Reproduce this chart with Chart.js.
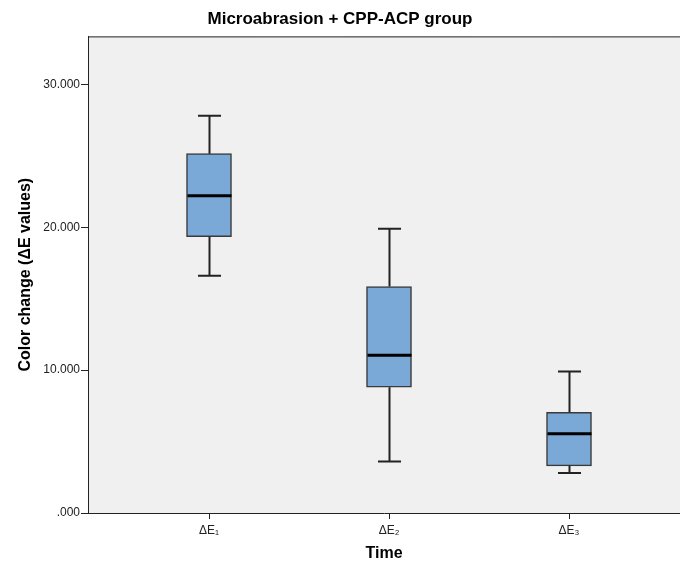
<!DOCTYPE html>
<html>
<head>
<meta charset="utf-8">
<script src="https://cdn.jsdelivr.net/npm/chart.js@4.4.1/dist/chart.umd.min.js"></script>
<style>
  html, body { margin: 0; padding: 0; background: #fff; }
  #wrap { width: 680px; height: 567px; }
</style>
</head>
<body>
<div id="wrap"><canvas id="box"></canvas></div>
<script>
// box plot data
const labels = ["ΔE₁", "ΔE₂", "ΔE₃"];
const positions = [1, 2, 3];
const mins    = [16.6, 3.6, 2.8];
const q1s     = [19.35, 8.8, 3.3];
const medians = [22.2, 11.05, 5.55];
const q3s     = [25.15, 15.85, 7.05];
const maxs    = [27.8, 19.9, 9.9];
const yTicks = [0, 10, 20, 30];

const font = "'Liberation Sans', Arial, sans-serif";

const boxPlot = {
  id: "boxPlot",
  beforeDraw(chart) {
    const { ctx, chartArea: a } = chart;
    ctx.save();
    ctx.fillStyle = "#f0f0f0";
    ctx.fillRect(a.left, a.top, a.right - a.left, a.bottom - a.top);
    ctx.restore();
  },
  afterDatasetsDraw(chart) {
    const { ctx, chartArea: a } = chart;
    const x = chart.scales.x, y = chart.scales.y;
    ctx.save();
    // top frame line
    ctx.strokeStyle = "#222";
    ctx.lineWidth = 1;
    ctx.beginPath();
    ctx.moveTo(a.left, a.top + 0.5);
    ctx.lineTo(a.right, a.top + 0.5);
    ctx.stroke();

    positions.forEach((p, i) => {
      const cx = Math.round(x.getPixelForValue(p)) + 0.5;
      const cap = 11.5, half = 22;
      ctx.strokeStyle = "#222";
      ctx.lineWidth = 2;
      ctx.beginPath();
      ctx.moveTo(cx, y.getPixelForValue(q3s[i]));
      ctx.lineTo(cx, y.getPixelForValue(maxs[i]));
      ctx.moveTo(cx - cap, y.getPixelForValue(maxs[i]));
      ctx.lineTo(cx + cap, y.getPixelForValue(maxs[i]));
      ctx.moveTo(cx, y.getPixelForValue(q1s[i]));
      ctx.lineTo(cx, y.getPixelForValue(mins[i]));
      ctx.moveTo(cx - cap, y.getPixelForValue(mins[i]));
      ctx.lineTo(cx + cap, y.getPixelForValue(mins[i]));
      ctx.stroke();
      // median
      ctx.strokeStyle = "#000";
      ctx.lineWidth = 3;
      ctx.beginPath();
      ctx.moveTo(cx - half, y.getPixelForValue(medians[i]));
      ctx.lineTo(cx + half, y.getPixelForValue(medians[i]));
      ctx.stroke();
    });
    ctx.restore();
  }
};

new Chart(document.getElementById("box"), {
  type: "bar",
  data: {
    datasets: [{
      data: positions.map((p, i) => ({ x: p, y: [q1s[i], q3s[i]] })),
      backgroundColor: "#7aa9d7",
      borderColor: "#3a3a3a",
      borderWidth: 1.5,
      borderSkipped: false,
      barThickness: 45
    }]
  },
  options: {
    responsive: true,
    maintainAspectRatio: false,
    animation: false,
    layout: { padding: 0 },
    plugins: {
      legend: { display: false },
      tooltip: { enabled: false },
      title: {
        display: true,
        text: "Microabrasion + CPP-ACP group",
        color: "#000",
        font: { family: font, size: 17, weight: "bold" },
        padding: { top: 9, bottom: 7 }
      }
    },
    scales: {
      x: {
        type: "linear",
        offset: false,
        min: 1 - 121 / 180,
        max: 1 - 121 / 180 + 592 / 180,
        afterBuildTicks: s => { s.ticks = positions.map(v => ({ value: v })); },
        afterFit: s => { s.height = 54; },
        ticks: {
          color: "#222",
          font: { family: font, size: 12 },
          padding: 4,
          callback: v => labels[positions.indexOf(v)]
        },
        grid: { offset: false, drawOnChartArea: false, drawTicks: true, tickLength: 6, color: "#222" },
        border: { color: "#222", width: 1 },
        title: {
          display: true,
          text: "Time",
          color: "#000",
          font: { family: font, size: 16, weight: "bold" },
          padding: { top: 3 }
        }
      },
      y: {
        min: 0,
        max: 33.36,
        afterBuildTicks: s => { s.ticks = yTicks.map(v => ({ value: v })); },
        afterFit: s => { s.width = 88; },
        ticks: {
          color: "#222",
          font: { family: font, size: 12 },
          padding: 1,
          callback: v => v === 0 ? ".000" : v.toFixed(3)
        },
        grid: { drawOnChartArea: false, drawTicks: true, tickLength: 7, color: "#222" },
        border: { color: "#222", width: 1 },
        title: {
          display: true,
          text: "Color change (ΔE values)",
          color: "#000",
          font: { family: font, size: 16, weight: "bold" },
          padding: { top: 16, bottom: 14 }
        }
      }
    }
  },
  plugins: [boxPlot]
});
</script>
</body>
</html>
